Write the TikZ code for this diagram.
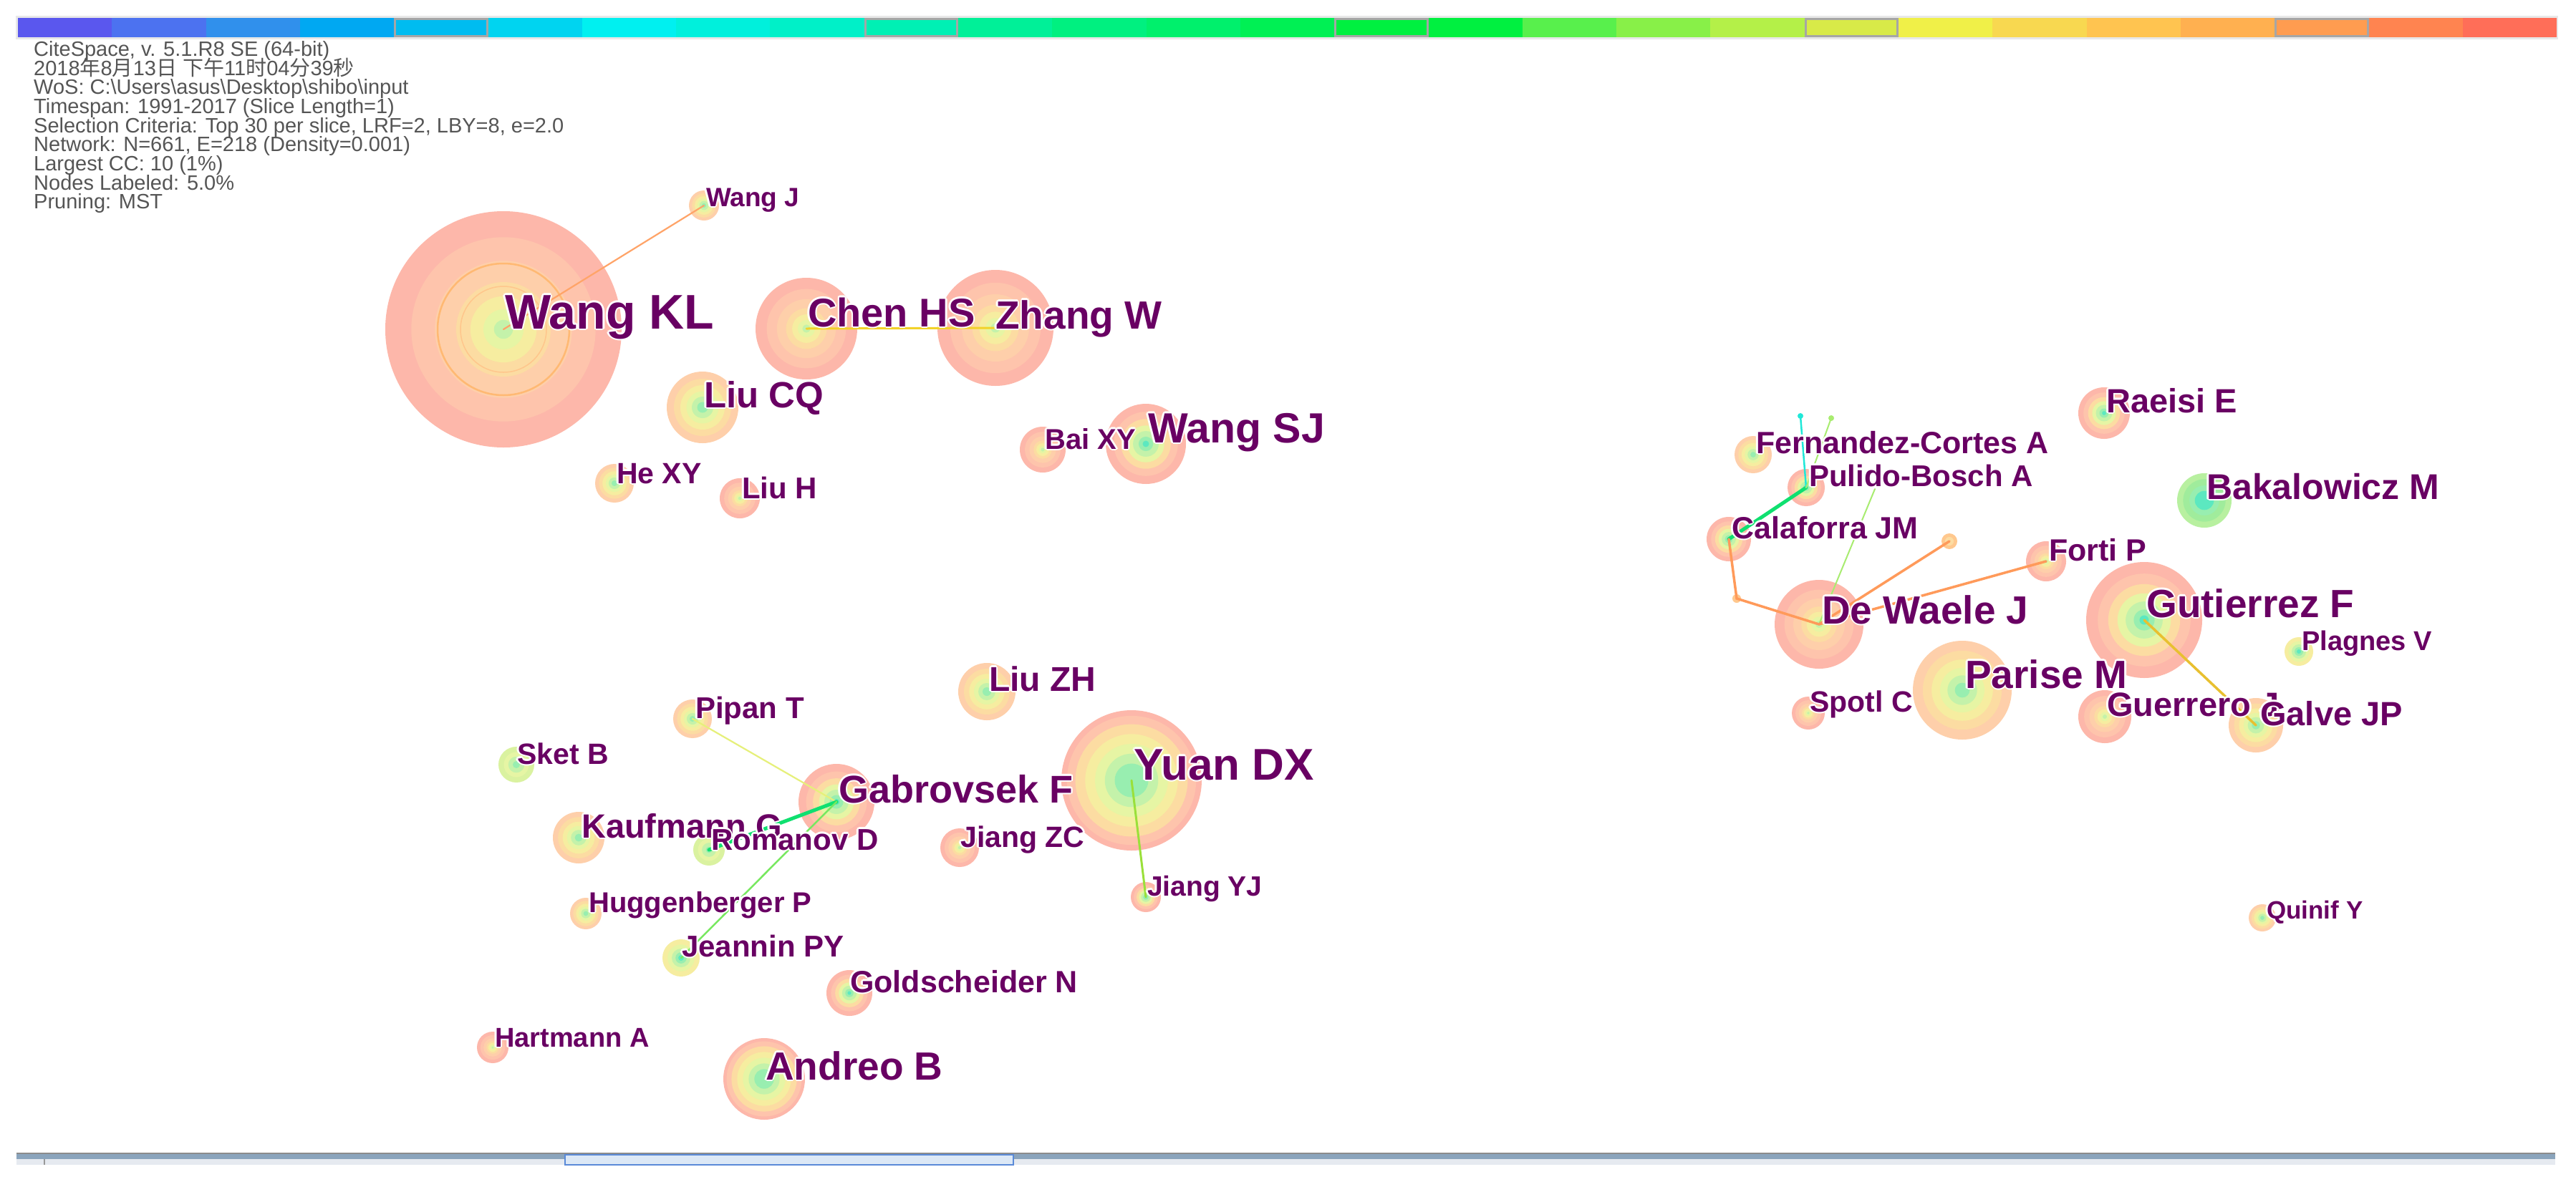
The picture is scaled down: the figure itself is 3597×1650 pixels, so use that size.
\documentclass[tikz,border=0pt]{standalone}
\usepackage{fontspec}
\setmainfont{Liberation Sans}
\newfontfamily\cjk{Noto Sans CJK SC}
\definecolor{sal}{HTML}{FDB7AA}
\definecolor{lsal}{HTML}{FEC4AC}
\definecolor{pch}{HTML}{FECFAA}
\definecolor{lor}{HTML}{FCDCA2}
\definecolor{yel}{HTML}{F6EDA0}
\definecolor{ygr}{HTML}{E6F5A4}
\definecolor{lgr}{HTML}{C4F2AA}
\definecolor{grn}{HTML}{98EEB0}
\definecolor{cyg}{HTML}{5CE8C0}
\definecolor{bka}{HTML}{B8F0A0}
\definecolor{bkb}{HTML}{A0EC9C}
\definecolor{skt}{HTML}{DAF2A0}
\definecolor{orn}{HTML}{FFC88E}
\definecolor{cyd}{HTML}{20E8D8}
\definecolor{labelc}{HTML}{690063}
\definecolor{hdrc}{HTML}{555555}
\definecolor{eOr}{HTML}{FFA468}
\definecolor{eOd}{HTML}{FF9A5A}
\definecolor{eYe}{HTML}{F2D22A}
\definecolor{eLy}{HTML}{E6F07A}
\definecolor{eGr}{HTML}{10E070}
\definecolor{eLg}{HTML}{78E860}
\definecolor{eYg}{HTML}{9AE03A}
\definecolor{eGo}{HTML}{E8C030}
\definecolor{eLa}{HTML}{A8EC70}
\definecolor{bbA}{HTML}{8AA4BC}
\definecolor{bbB}{HTML}{E6EAF0}
\definecolor{bbT}{HTML}{DCE8F6}
\definecolor{bbL}{HTML}{5A8AD8}
\def\palA{1/sal,.78/lsal,.58/pch,.4/lor,.28/yel,.17/ygr,.08/lgr}
\def\palB{1/pch,.8/lor,.62/yel,.45/ygr,.3/lgr,.15/grn}
\def\palC{1/bka,.78/bkb,.55/grn,.35/cyg}
\def\palD{1/sal,.8/lsal,.62/lor,.46/ygr,.32/lgr,.18/grn,.08/cyg}
\def\palE{1/skt,.7/ygr,.45/lgr,.2/grn}
\def\palF{1/orn,.55/lor}
\def\palO{1/orn}
\def\palG{1/yel,.72/ygr,.5/lgr,.3/grn,.15/cyg}
\def\palH{1/sal,.92/lsal,.8/lor,.66/yel,.52/ygr,.38/lgr,.24/grn,.1/grn}
\def\palT{1/cyd}
\def\palU{1/eLa}
\newdimen\hw \hw=2.5pt
\newcommand\halo[1]{\setbox0=\hbox{#1}%
 \rlap{\color{white}\kern\hw\copy0}%
 \rlap{\color{white}\kern-\hw\copy0}%
 \rlap{\color{white}\raise\hw\copy0}%
 \rlap{\color{white}\lower\hw\copy0}%
 \rlap{\color{white}\kern.7\hw\raise.7\hw\copy0}%
 \rlap{\color{white}\kern-.7\hw\raise.7\hw\copy0}%
 \rlap{\color{white}\kern.7\hw\lower.7\hw\copy0}%
 \rlap{\color{white}\kern-.7\hw\lower.7\hw\copy0}%
 \copy0}
\newcommand\cnode[5]{%
 \node[circle, inner sep=0pt, minimum size=2*#4pt] (#1) at (#2,#3) {};
 \foreach \f/\c in #5 {\fill[\c] (#1.center) circle[radius=\f*#4pt];}
}
\newcommand\clabel[5]{%
 \node[lbl, font=\fontsize{#4}{#4}\selectfont\bfseries] (#1) at (#2,#3) {\halo{#5}};
}
\tikzset{
 lbl/.style={anchor=base west, inner sep=0pt, text=labelc},
 hdr/.style={anchor=base west, inner sep=0pt, text=hdrc, font=\fontsize{29}{29}\selectfont},
 link/.style={line cap=round},
}
\begin{document}
\begin{tikzpicture}[x=1pt,y=-1pt]
\fill[white] (0,0) rectangle (3597,1650);
\useasboundingbox (0,0) rectangle (3597,1650);
% colour bar
\fill[black!9] (22,22) rectangle (3572,55);
\foreach \cc [count=\i from 0] in {5A57EE,4C72F0,3090EC,00A8F2,00BCF0,00D4F0,00F0F0,00F0DC,00F0C8,00F0B4,00F098,00F080,00F06C,00F054,00F040,00F040,58F04C,88F048,B4F048,D8EA48,F0F048,F8D850,FFC450,FFB050,FF9C50,FF8450,FF6E58}{
 \edef\tmp{\noexpand\definecolor{bc}{HTML}{\cc}}\tmp
 \fill[bc] ({25+\i*131.3},25) rectangle ({25+(\i+1)*131.3},52);
}
\foreach \i in {4,9,14,19,24}{
 \draw[black!35, line width=3pt] ({25+\i*131.3+1.5},26.5) rectangle ({25+(\i+1)*131.3-1.5},50.5);
}
% header
\node[hdr] (h1) at (47,78) {CiteSpace, v. 5.1.R8 SE (64-bit)};
\node[hdr] (h2) at (47,105) {2018{\cjk 年}8{\cjk 月}13{\cjk 日} {\cjk 下午}11{\cjk 时}04{\cjk 分}39{\cjk 秒}};
\node[hdr] (h3) at (47,131) {WoS: C:\textbackslash Users\textbackslash asus\textbackslash Desktop\textbackslash shibo\textbackslash input};
\node[hdr] (h4) at (47,158) {Timespan: 1991-2017 (Slice Length=1)};
\node[hdr] (h5) at (47,185) {Selection Criteria: Top 30 per slice, LRF=2, LBY=8, e=2.0};
\node[hdr] (h6) at (47,211) {Network: N=661, E=218 (Density=0.001)};
\node[hdr] (h7) at (47,238) {Largest CC: 10 (1\%)};
\node[hdr] (h8) at (47,265) {Nodes Labeled: 5.0\%};
\node[hdr] (h9) at (47,291) {Pruning: MST};
% bottom bar
\fill[black!45] (23,1610) rectangle (3568,1612);
\fill[bbA] (23,1612) rectangle (3568,1619);
\fill[bbB] (23,1619) rectangle (3568,1627);
\filldraw[fill=bbT, draw=bbL, line width=1.5pt] (789,1613) rectangle (1415,1627);
\draw[black!40, line width=1.5pt] (62,1619) -- (62,1627);
% citation nodes
\cnode{wangkl}{703}{460}{165}{\palA}
\draw[orange!55, line width=2.5pt] (wangkl.center) circle[radius=92pt];
\draw[orange!45, line width=1.5pt] (wangkl.center) circle[radius=60pt];
\cnode{wangj}{983}{287}{21}{\palB}
\cnode{chenhs}{1126}{459}{71}{\palA}
\cnode{zhangw}{1390}{458}{81}{\palA}
\cnode{liucq}{981}{569}{50}{\palB}
\cnode{hexy}{858}{675}{27}{\palB}
\cnode{liuh}{1033}{696}{28}{\palA}
\cnode{baixy}{1456}{628}{32}{\palA}
\cnode{wangsj}{1600}{620}{56}{\palD}
\cnode{raeisi}{2938}{577}{36}{\palD}
\cnode{fernandez}{2448}{635}{26}{\palB}
\cnode{pulido}{2522}{681}{26}{\palD}
\cnode{calaforra}{2414}{753}{31}{\palD}
\cnode{bakalowicz}{3078}{699}{38}{\palC}
\cnode{smallA}{2722}{756}{11}{\palF}
\cnode{dotA}{2425}{836}{6}{\palO}
\cnode{tinyA}{2514}{581}{4}{\palT}
\cnode{tinyB}{2557}{584}{4}{\palU}
\cnode{forti}{2857}{784}{28}{\palA}
\cnode{dewaele}{2540}{872}{62}{\palA}
\cnode{gutierrez}{2994}{866}{81}{\palD}
\cnode{plagnes}{3210}{910}{20}{\palG}
\cnode{parise}{2740}{964}{69}{\palB}
\cnode{spotl}{2525}{996}{23}{\palA}
\cnode{guerrero}{2939}{1001}{37}{\palA}
\cnode{galve}{3150}{1013}{38}{\palB}
\cnode{quinif}{3159}{1282}{19}{\palB}
\cnode{liuzh}{1378}{966}{40}{\palB}
\cnode{pipan}{967}{1004}{27}{\palB}
\cnode{sketb}{721}{1068}{25}{\palE}
\cnode{gabrovsek}{1168}{1120}{53}{\palD}
\cnode{yuandx}{1580}{1090}{98}{\palH}
\cnode{kaufmann}{808}{1170}{36}{\palB}
\cnode{romanov}{990}{1187}{22}{\palE}
\cnode{jiangzc}{1340}{1184}{27}{\palA}
\cnode{jiangyj}{1600}{1253}{21}{\palD}
\cnode{huggenberger}{818}{1276}{22}{\palB}
\cnode{jeannin}{951}{1338}{26}{\palG}
\cnode{goldscheider}{1186}{1387}{32}{\palD}
\cnode{hartmann}{688}{1463}{22}{\palA}
\cnode{andreo}{1067}{1507}{57}{\palH}
\coordinate (endA) at (2618,683);
% links
\draw[link, eOr, line width=2.2pt] (wangkl.center) -- (wangj.center);
\draw[link, eYe, line width=3pt] (chenhs.center) -- (zhangw.center);
\draw[link, eLy, line width=2.2pt] (pipan.center) -- (gabrovsek.center);
\draw[link, eGr, line width=5pt] (gabrovsek.center) -- (romanov.center);
\draw[link, eLg, line width=2.5pt] (gabrovsek.center) -- (jeannin.center);
\draw[link, eYg, line width=3pt] (yuandx.center) -- (jiangyj.center);
\draw[link, eGr, line width=5pt] (calaforra.center) -- (pulido.center);
\draw[link, cyd, line width=2.5pt] (pulido.center) -- (tinyA.center);
\draw[link, eLa, line width=2pt] (pulido.center) -- (tinyB.center);
\draw[link, eLa, line width=2pt] (dewaele.center) -- (endA);
\draw[link, eOd, line width=3.5pt] (calaforra.center) -- (dotA.center) -- (dewaele.center);
\draw[link, eOd, line width=3.5pt] (dewaele.center) -- (smallA.center);
\draw[link, eOd, line width=3.5pt] (dewaele.center) -- (forti.center);
\draw[link, eGo, line width=3.5pt] (gutierrez.center) -- (galve.center);
% labels
\clabel{wangj-t}{986}{288}{37}{Wang J}
\clabel{wangkl-t}{705}{459}{68}{Wang KL}
\clabel{chenhs-t}{1128}{456}{56}{Chen HS}
\clabel{zhangw-t}{1390}{459}{55}{Zhang W}
\clabel{liucq-t}{983}{569}{51}{Liu CQ}
\clabel{hexy-t}{861}{675}{41}{He XY}
\clabel{liuh-t}{1036}{696}{42}{Liu H}
\clabel{baixy-t}{1459}{627}{40}{Bai XY}
\clabel{wangsj-t}{1603}{618}{59}{Wang SJ}
\clabel{raeisi-t}{2941}{576}{47}{Raeisi E}
\clabel{fernandez-t}{2452}{633}{43}{Fernandez-Cortes A}
\clabel{pulido-t}{2526}{679}{42}{Pulido-Bosch A}
\clabel{calaforra-t}{2418}{752}{43}{Calaforra JM}
\clabel{bakalowicz-t}{3081}{697}{50}{Bakalowicz M}
\clabel{forti-t}{2861}{783}{43}{Forti P}
\clabel{dewaele-t}{2544}{871}{55}{De Waele J}
\clabel{gutierrez-t}{2997}{862}{55}{Gutierrez F}
\clabel{plagnes-t}{3214}{908}{38}{Plagnes V}
\clabel{parise-t}{2744}{961}{55}{Parise M}
\clabel{spotl-t}{2527}{994}{41}{Spotl C}
\clabel{guerrero-t}{2942}{1000}{47}{Guerrero J}
\clabel{galve-t}{3156}{1013}{47}{Galve JP}
\clabel{quinif-t}{3165}{1283}{35}{Quinif Y}
\clabel{liuzh-t}{1381}{965}{48}{Liu ZH}
\clabel{pipan-t}{971}{1003}{42}{Pipan T}
\clabel{sketb-t}{722}{1067}{41}{Sket B}
\clabel{gabrovsek-t}{1171}{1121}{54}{Gabrovsek F}
\clabel{yuandx-t}{1583}{1089}{62}{Yuan DX}
\clabel{kaufmann-t}{812}{1170}{47}{Kaufmann G}
\clabel{romanov-t}{993}{1187}{42}{Romanov D}
\clabel{jiangzc-t}{1341}{1183}{41}{Jiang ZC}
\clabel{jiangyj-t}{1602}{1251}{39}{Jiang YJ}
\clabel{huggenberger-t}{822}{1274}{40}{Huggenberger P}
\clabel{jeannin-t}{952}{1336}{42}{Jeannin PY}
\clabel{goldscheider-t}{1187}{1386}{43}{Goldscheider N}
\clabel{hartmann-t}{691}{1462}{38}{Hartmann A}
\clabel{andreo-t}{1069}{1508}{55}{Andreo B}
\end{tikzpicture}
\end{document}
